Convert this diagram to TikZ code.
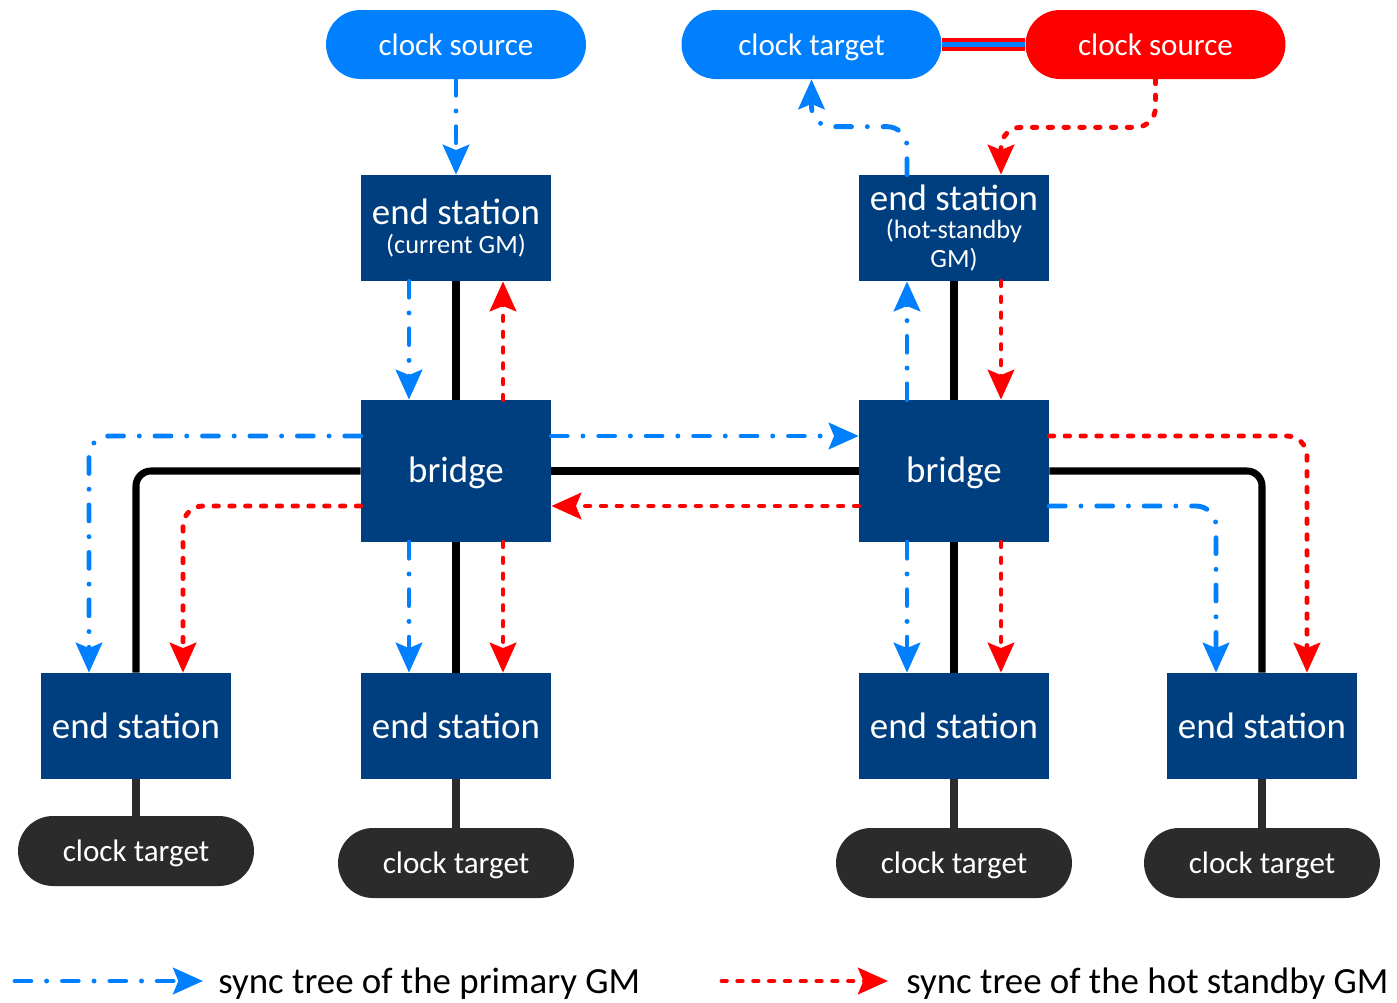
\documentclass[tikz,border=0pt]{standalone}
\usepackage{fontspec}
\setmainfont{Carlito}
\usetikzlibrary{calc,arrows.meta,positioning}
\definecolor{esblue}{RGB}{0,63,127}
\definecolor{skyblue}{RGB}{0,128,255}
\definecolor{tgtgray}{RGB}{43,43,43}
\newcommand{\gmsize}{\fontsize{15}{16}\selectfont}
\tikzset{%
    station/.style={%
        rectangle, fill=esblue, text=white, minimum width=3.8cm, minimum height=2.12cm, inner sep=0pt, align=center, font=\fontsize{21}{16}\selectfont
    },
    bridgebox/.style={%
        station, minimum height=2.84cm, text height=14.5pt, text depth=1pt
    },
    srcpill/.style={%
        rectangle, rounded corners=0.69cm, minimum width=5.2cm, minimum height=1.38cm, inner sep=0pt, text=white, text height=12.4pt, text depth=0pt, font=\fontsize{17.7}{20}\selectfont
    },
    tgtpill/.style={%
        srcpill, fill=tgtgray, minimum width=4.72cm, minimum height=1.4cm, rounded corners=0.7cm
    },
    link/.style={%
        line width=4pt, rounded corners=0.3cm
    },
    tolink/.style={%
        line width=4pt, tgtgray
    },
    prim/.style={%
        -{Stealth[length=17pt,width=15pt,inset=3pt]}, skyblue, line width=2.8pt, line cap=round, dash pattern=on 9pt off 9pt on 0pt off 9pt, rounded corners=0.4cm
    },
    hot/.style={%
        -{Stealth[length=17pt,width=15pt,inset=3pt]}, red, line width=2.8pt, line cap=round, dash pattern=on 2.5pt off 6.5pt, rounded corners=0.4cm
    },
    legend/.style={%
        anchor=base west, inner sep=0pt, font=\fontsize{21}{24}\selectfont
    },
}

\begin{document}
\begin{tikzpicture}[x=0.02cm,y=-0.02cm]
      \useasboundingbox (0,0) rectangle (1397,1002);

      % top row
      \node[srcpill, fill=skyblue] (src) at (456,44.5) {clock source};
      \node[srcpill, fill=skyblue] (tgt) at (811.5,44.5) {clock target};
      \node[srcpill, fill=red] (srcR) at (1155.5,44.5) {clock source};

      % grandmasters and bridges
      \node[station] (gm) at (456,228) {end station\\{\gmsize (current GM)}};
      \node[station] (hs) at (954,228) {end station\\{\gmsize (hot-standby}\\{\gmsize GM)}};
      \node[bridgebox] (brL) at (456,471) {bridge};
      \node[bridgebox] (brR) at (954,471) {bridge};

      % end stations
      \node[station] (es1) at (136,726) {end station};
      \node[station] (es2) at (456,726) {end station};
      \node[station] (es3) at (954,726) {end station};
      \node[station] (es4) at (1262,726) {end station};

      % clock targets
      \node[tgtpill] (ct1) at (136,851) {clock target};
      \node[tgtpill] (ct2) at (456,863) {clock target};
      \node[tgtpill] (ct3) at (954,863) {clock target};
      \node[tgtpill] (ct4) at (1262,863) {clock target};

      % wiring
      \draw[link] (gm) -- (brL);
      \draw[link] (hs) -- (brR);
      \draw[link] (brL) -- (brR);
      \draw[link] (brL) -- (es2);
      \draw[link] (brR) -- (es3);
      \draw[link] (brL.west) -| (es1.north);
      \draw[link] (brR.east) -| (es4.north);
      \draw[tolink] (es1) -- (ct1);
      \draw[tolink] (es2) -- (ct2);
      \draw[tolink] (es3) -- (ct3);
      \draw[tolink] (es4) -- (ct4);
      \draw[red, line width=7pt] (tgt.east) -- (srcR.west);
      \draw[skyblue, line width=2.5pt] (tgt.east) -- (srcR.west);

      % sync tree of the primary GM
      \draw[prim] (src) -- (gm);
      \draw[prim] ($(gm.south)+(-47,0)$) -- ($(brL.north)+(-47,0)$);
      \draw[prim] ($(brL.west)+(0,-35)$) -| ($(es1.north)+(-47,0)$);
      \draw[prim] ($(brL.east)+(0,-35)$) -- ($(brR.west)+(0,-35)$);
      \draw[prim] ($(brL.south)+(-47,0)$) -- ($(es2.north)+(-47,0)$);
      \draw[prim] ($(brR.north)+(-47,0)$) -- ($(hs.south)+(-47,0)$);
      \draw[prim] ($(hs.north)+(-47,0)$) -- ++(0,-48) -| (tgt.south);
      \draw[prim] ($(brR.south)+(-47,0)$) -- ($(es3.north)+(-47,0)$);
      \draw[prim] ($(brR.east)+(0,35)$) -| ($(es4.north)+(-46,0)$);

      % sync tree of the hot standby GM
      \draw[hot] (srcR.south) -- ++(0,48) -| ($(hs.north)+(47,0)$);
      \draw[hot] ($(hs.south)+(47,0)$) -- ($(brR.north)+(47,0)$);
      \draw[hot] ($(brR.west)+(0,35)$) -- ($(brL.east)+(0,35)$);
      \draw[hot] ($(brL.north)+(47,0)$) -- ($(gm.south)+(47,0)$);
      \draw[hot] ($(brL.west)+(0,35)$) -| ($(es1.north)+(47,0)$);
      \draw[hot] ($(brL.south)+(47,0)$) -- ($(es2.north)+(47,0)$);
      \draw[hot] ($(brR.south)+(47,0)$) -- ($(es3.north)+(47,0)$);
      \draw[hot] ($(brR.east)+(0,-35)$) -| ($(es4.north)+(45,0)$);

      % legend
      \coordinate (pa) at (15,981);
      \coordinate (pb) at (203,981);
      \draw[prim] (pa) -- (pb);
      \node[legend] (pt) at (218,993) {sync tree of the primary GM};
      \coordinate (ha) at (722,981);
      \coordinate (hb) at (888,981);
      \draw[hot] (ha) -- (hb);
      \node[legend] (ht) at (906,993) {sync tree of the hot standby GM};
    \end{tikzpicture}
\end{document}
